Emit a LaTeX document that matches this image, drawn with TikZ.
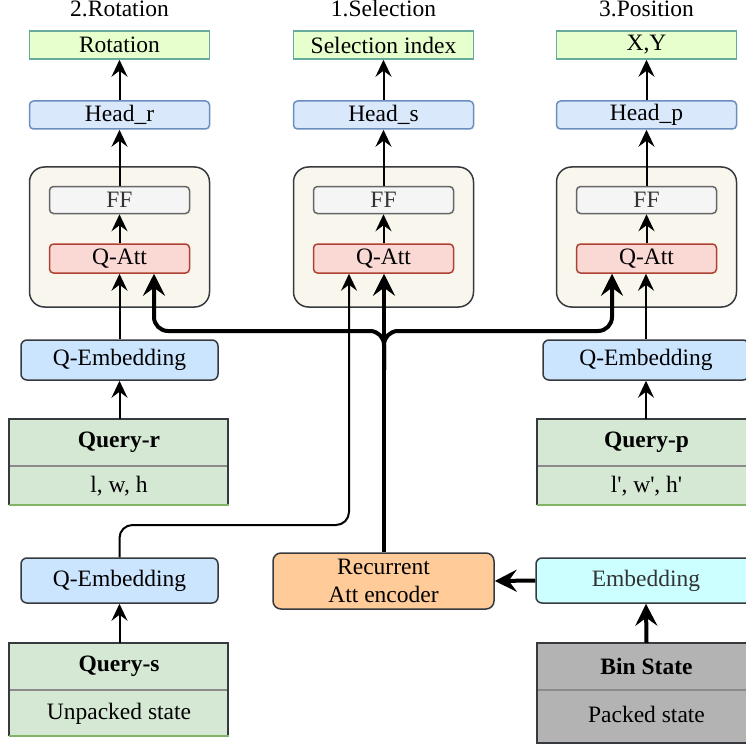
\documentclass[tikz,border=0pt]{standalone}
\usepackage{fontspec}
\setmainfont{Liberation Serif}
\usetikzlibrary{arrows.meta,calc}
\definecolor{outfill}{HTML}{E6FFCC}
\definecolor{outdraw}{HTML}{67AB9F}
\definecolor{headfill}{HTML}{DAE8FC}
\definecolor{headdraw}{HTML}{6C8EBF}
\definecolor{contfill}{HTML}{F9F7ED}
\definecolor{darkline}{HTML}{36393D}
\definecolor{fffill}{HTML}{F5F5F5}
\definecolor{ffdraw}{HTML}{666666}
\definecolor{fftext}{HTML}{333333}
\definecolor{attfill}{HTML}{FAD9D5}
\definecolor{attdraw}{HTML}{AE4132}
\definecolor{qembfill}{HTML}{CCE5FF}
\definecolor{qfill}{HTML}{D5E8D4}
\definecolor{qgreen}{HTML}{82B366}
\definecolor{recfill}{HTML}{FFCC99}
\definecolor{embfill}{HTML}{CCFFFF}
\definecolor{binfill}{HTML}{B3B3B3}
\definecolor{divgray}{HTML}{8A8A8A}
\newcommand{\fsz}{\fontsize{23.5}{27}\selectfont}
\tikzset{
  every node/.style={font=\fsz, inner sep=0pt},
  outbox/.style={draw=outdraw, fill=outfill, line width=1.5pt, minimum width=180pt, minimum height=28pt},
  headbox/.style={draw=headdraw, fill=headfill, line width=1.5pt, rounded corners=4pt, minimum width=180pt, minimum height=28pt},
  contbox/.style={draw=darkline, fill=contfill, line width=1.5pt, rounded corners=15pt, minimum width=180pt, minimum height=140pt},
  ffbox/.style={draw=ffdraw, fill=fffill, line width=1.5pt, rounded corners=4pt, minimum width=140pt, minimum height=27pt, text=fftext},
  attbox/.style={draw=attdraw, fill=attfill, line width=1.5pt, rounded corners=4pt, minimum width=140pt, minimum height=29pt},
  qembbox/.style={draw=darkline, fill=qembfill, line width=1.5pt, rounded corners=6pt, minimum height=40pt},
  cell/.style={minimum width=219pt},
  thinarrow/.style={draw=black, line width=2pt, -{Stealth[length=17pt, width=16pt, inset=6pt]}},
  thickarrow/.style={draw=black, line width=4pt, -{Stealth[length=22pt, width=22pt, inset=8pt]}},
}
\begin{document}
\begin{tikzpicture}[x=1pt, y=-1pt]
\useasboundingbox (0,0) rectangle (746,746);
\clip (0,0) rectangle (746,746);

% titles
\node[anchor=base] (t_r) at (119.5,17) {2.Rotation};
\node[anchor=base] (t_s) at (383.5,17) {1.Selection};
\node[anchor=base] (t_p) at (646.5,17) {3.Position};

% outputs
\node[outbox] (out_r) at (119.5,45) {Rotation};
\node[outbox] (out_s) at (383.5,45) {Selection index};
\node[outbox] (out_p) at (646.5,45) {X,Y};

% heads
\node[headbox] (head_r) at (119.5,115) {Head\_r};
\node[headbox] (head_s) at (383.5,115) {Head\_s};
\node[headbox] (head_p) at (646.5,115) {Head\_p};

% containers
\node[contbox] (cont_r) at (119.5,237) {};
\node[contbox] (cont_s) at (383.5,237) {};
\node[contbox] (cont_p) at (646.5,237) {};

\node[ffbox] (ff_r) at (119.5,200) {FF};
\node[ffbox] (ff_s) at (383.5,200) {FF};
\node[ffbox] (ff_p) at (646.5,200) {FF};

\node[attbox] (att_r) at (119.5,258.5) {Q-Att};
\node[attbox] (att_s) at (383.5,258.5) {Q-Att};
\node[attbox] (att_p) at (646.5,258.5) {Q-Att};

% Q-Embeddings
\node[qembbox, minimum width=197pt] (qemb_r) at (119.5,360) {Q-Embedding};
\node[qembbox, minimum width=206pt] (qemb_p) at (646,360) {Q-Embedding};
\node[qembbox, minimum width=197pt, minimum height=45pt] (qemb_s) at (119.5,580.5) {Q-Embedding};

% Query-r table
\fill[qfill] (9,419) rectangle (229,505);
\node[cell, minimum height=47pt] (qr_h) at (119,442.5) {\textbf{Query-r}};
\node[cell, minimum height=39pt] (qr_b) at (119,486) {l, w, h};
\draw[divgray, line width=1.5pt] (9,466) -- (229,466);
\draw[darkline, line width=1.5pt] (9,505) -- (9,419) -- (228,419) -- (228,505);
\draw[qgreen, line width=1.5pt] (9,505) -- (229,505);

% Query-p table
\fill[qfill] (537,419) rectangle (757,505);
\node[cell, minimum height=47pt] (qp_h) at (646.5,442.5) {\textbf{Query-p}};
\node[cell, minimum height=39pt] (qp_b) at (646.5,486) {l\textquotesingle, w\textquotesingle, h\textquotesingle};
\draw[divgray, line width=1.5pt] (537,466) -- (757,466);
\draw[darkline, line width=1.5pt] (537,505) -- (537,419) -- (757,419);
\draw[qgreen, line width=1.5pt] (537,505) -- (757,505);

% Query-s table
\fill[qfill] (9,643) rectangle (229,736);
\node[cell, minimum height=47pt] (qs_h) at (119,666.5) {\textbf{Query-s}};
\node[cell, minimum height=46pt] (qs_b) at (119,714) {Unpacked state};
\draw[divgray, line width=1.5pt] (9,690) -- (229,690);
\draw[darkline, line width=1.5pt] (9,736) -- (9,643) -- (228,643) -- (228,736);
\draw[qgreen, line width=1.5pt] (9,736) -- (229,736);

% Bin State table
\fill[binfill] (537,643) rectangle (757,743);
\node[cell, minimum height=47pt] (bin_h) at (646.5,666.5) {\textbf{Bin State}};
\node[cell, minimum height=53pt] (bin_b) at (646.5,714) {Packed state};
\draw[divgray, line width=1.5pt] (537,690) -- (757,690);
\draw[darkline, line width=1.5pt] (757,743) -- (537,743) -- (537,643) -- (757,643);

% Recurrent encoder and Embedding
\node[draw=darkline, fill=recfill, line width=1.5pt, rounded corners=8pt, minimum width=221pt, minimum height=56pt, align=center] (rec) at (383.5,581) {Recurrent\\[1pt]Att encoder};
\node[draw=darkline, fill=embfill, line width=1.5pt, rounded corners=6pt, minimum width=220pt, minimum height=45pt, text=fftext] (emb) at (646,580.5) {Embedding};

% vertical thin connectors
\foreach \c in {r,s,p} {
  \draw[thinarrow] (head_\c.north) -- (out_\c.south);
  \draw[thinarrow] (ff_\c.north) -- (head_\c.south);
  \draw[thinarrow] (att_\c.north) -- (ff_\c.south);
}

\draw[thinarrow] (qemb_r.north) -- (att_r.south);
\draw[thinarrow] (qemb_p.north) -- (qemb_p.north |- att_p.south);
\draw[thinarrow] (qr_h.north -| qemb_r.south) -- (qemb_r.south);
\draw[thinarrow] (qp_h.north -| qemb_p.south) -- (qemb_p.south);
\draw[thinarrow] (qs_h.north -| qemb_s.south) -- (qemb_s.south);

% thin connector from Query-s embedding to selection attention
\coordinate (sbend) at (349,525);
\draw[thinarrow, rounded corners=13pt] (qemb_s.north) |- (sbend) -- (sbend |- att_s.south);

% thick connectors from encoder
\coordinate (trunk) at (384,370);
\coordinate (jl) at (154,331);
\coordinate (jr) at (612,331);
\draw[thickarrow] (rec.north -| trunk) -- (trunk |- att_s.south);
\draw[thickarrow, rounded corners=14pt] (trunk) |- (jl) -- (jl |- att_r.south);
\draw[thickarrow, rounded corners=14pt] (trunk) |- (jr) -- (jr |- att_p.south);

\draw[thickarrow] (emb.west) -- (rec.east);
\draw[thickarrow] (bin_h.north) -- (emb.south);
\end{tikzpicture}
\end{document}
